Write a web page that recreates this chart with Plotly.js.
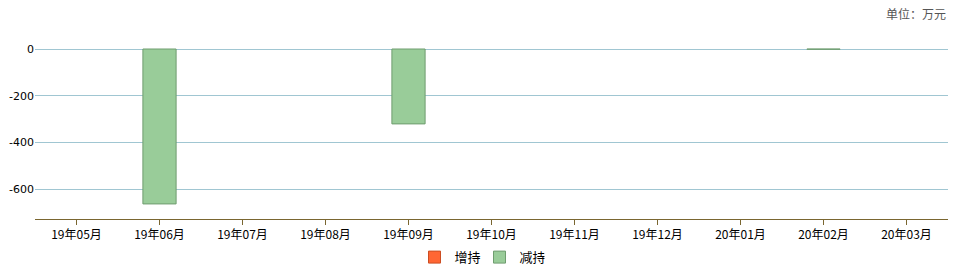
<!DOCTYPE html>
<html>
<head>
<meta charset="utf-8">
<script src="https://cdn.plot.ly/plotly-3.0.1.min.js"></script>
<style>
  html, body { margin: 0; padding: 0; background: #fff; }
  #chart { width: 959px; height: 278px; }
</style>
</head>
<body>
<div id="chart"></div>
<script>
// Monthly shareholder increase / decrease amounts (unit: 10k yuan)
const months = ["19年05月", "19年06月", "19年07月", "19年08月", "19年09月", "19年10月",
                "19年11月", "19年12月", "20年01月", "20年02月", "20年03月"];
const increaseValues = [0, 0, 0, 0, 0, 0, 0, 0, 0, 0, 0];
const decreaseValues = [0, -664, 0, 0, -321, 0, 0, 0, 0, -1, 0];
const yTickValues = [0, -200, -400, -600];
const yTickLabels = ["0", "-200", "-400", "-600"];

const cjkFont = '"Noto Sans CJK SC", "DejaVu Sans", sans-serif';

const traces = [
  {
    type: "bar",
    name: "增持",
    x: months,
    y: increaseValues.map(v => (v === 0 ? null : v)),
    width: 0.4,
    marker: { color: "#ff6633", line: { color: "#cc4d22", width: 1 } },
    hoverinfo: "x+y"
  },
  {
    type: "bar",
    name: "减持",
    x: months,
    y: decreaseValues.map(v => (v === 0 ? null : v)),
    width: 0.4,
    marker: { color: "#99cc99", line: { color: "#6f9d6f", width: 1 } },
    hoverinfo: "x+y"
  }
];

const layout = {
  width: 959,
  height: 278,
  margin: { l: 35, r: 11, t: 39, b: 59, autoexpand: false },
  paper_bgcolor: "#ffffff",
  plot_bgcolor: "#ffffff",
  barmode: "relative",
  showlegend: true,
  legend: {
    orientation: "h",
    x: 0.5,
    xref: "container",
    xanchor: "center",
    y: 0.075,
    yref: "container",
    yanchor: "middle",
    font: { family: cjkFont, size: 13, color: "#000" },
    itemwidth: 30,
    entrywidth: 20,
    entrywidthmode: "pixels",
    traceorder: "normal"
  },
  xaxis: {
    type: "category",
    range: [-0.5, 10.5],
    showgrid: false,
    showline: true,
    linecolor: "#7a6630",
    linewidth: 1,
    ticks: "outside",
    ticklen: 5,
    tickcolor: "#7a6630",
    tickfont: { family: cjkFont, size: 12, color: "#000" },
    zeroline: false,
    automargin: false,
    fixedrange: true
  },
  yaxis: {
    range: [-728.6, 42.9],
    tickvals: yTickValues,
    ticktext: yTickLabels,
    showgrid: true,
    gridcolor: "#a0c6d2",
    gridwidth: 1,
    zeroline: false,
    showline: false,
    ticks: "",
    tickfont: { family: '"DejaVu Sans", sans-serif', size: 11, color: "#000" },
    automargin: false,
    fixedrange: true
  },
  annotations: [
    {
      text: "单位：万元",
      xref: "paper",
      yref: "paper",
      x: 1,
      xanchor: "right",
      y: 1,
      yshift: 36,
      yanchor: "top",
      showarrow: false,
      font: { family: cjkFont, size: 12, color: "#555" }
    }
  ]
};

Plotly.newPlot("chart", traces, layout, { displayModeBar: false, staticPlot: true });
</script>
</body>
</html>
